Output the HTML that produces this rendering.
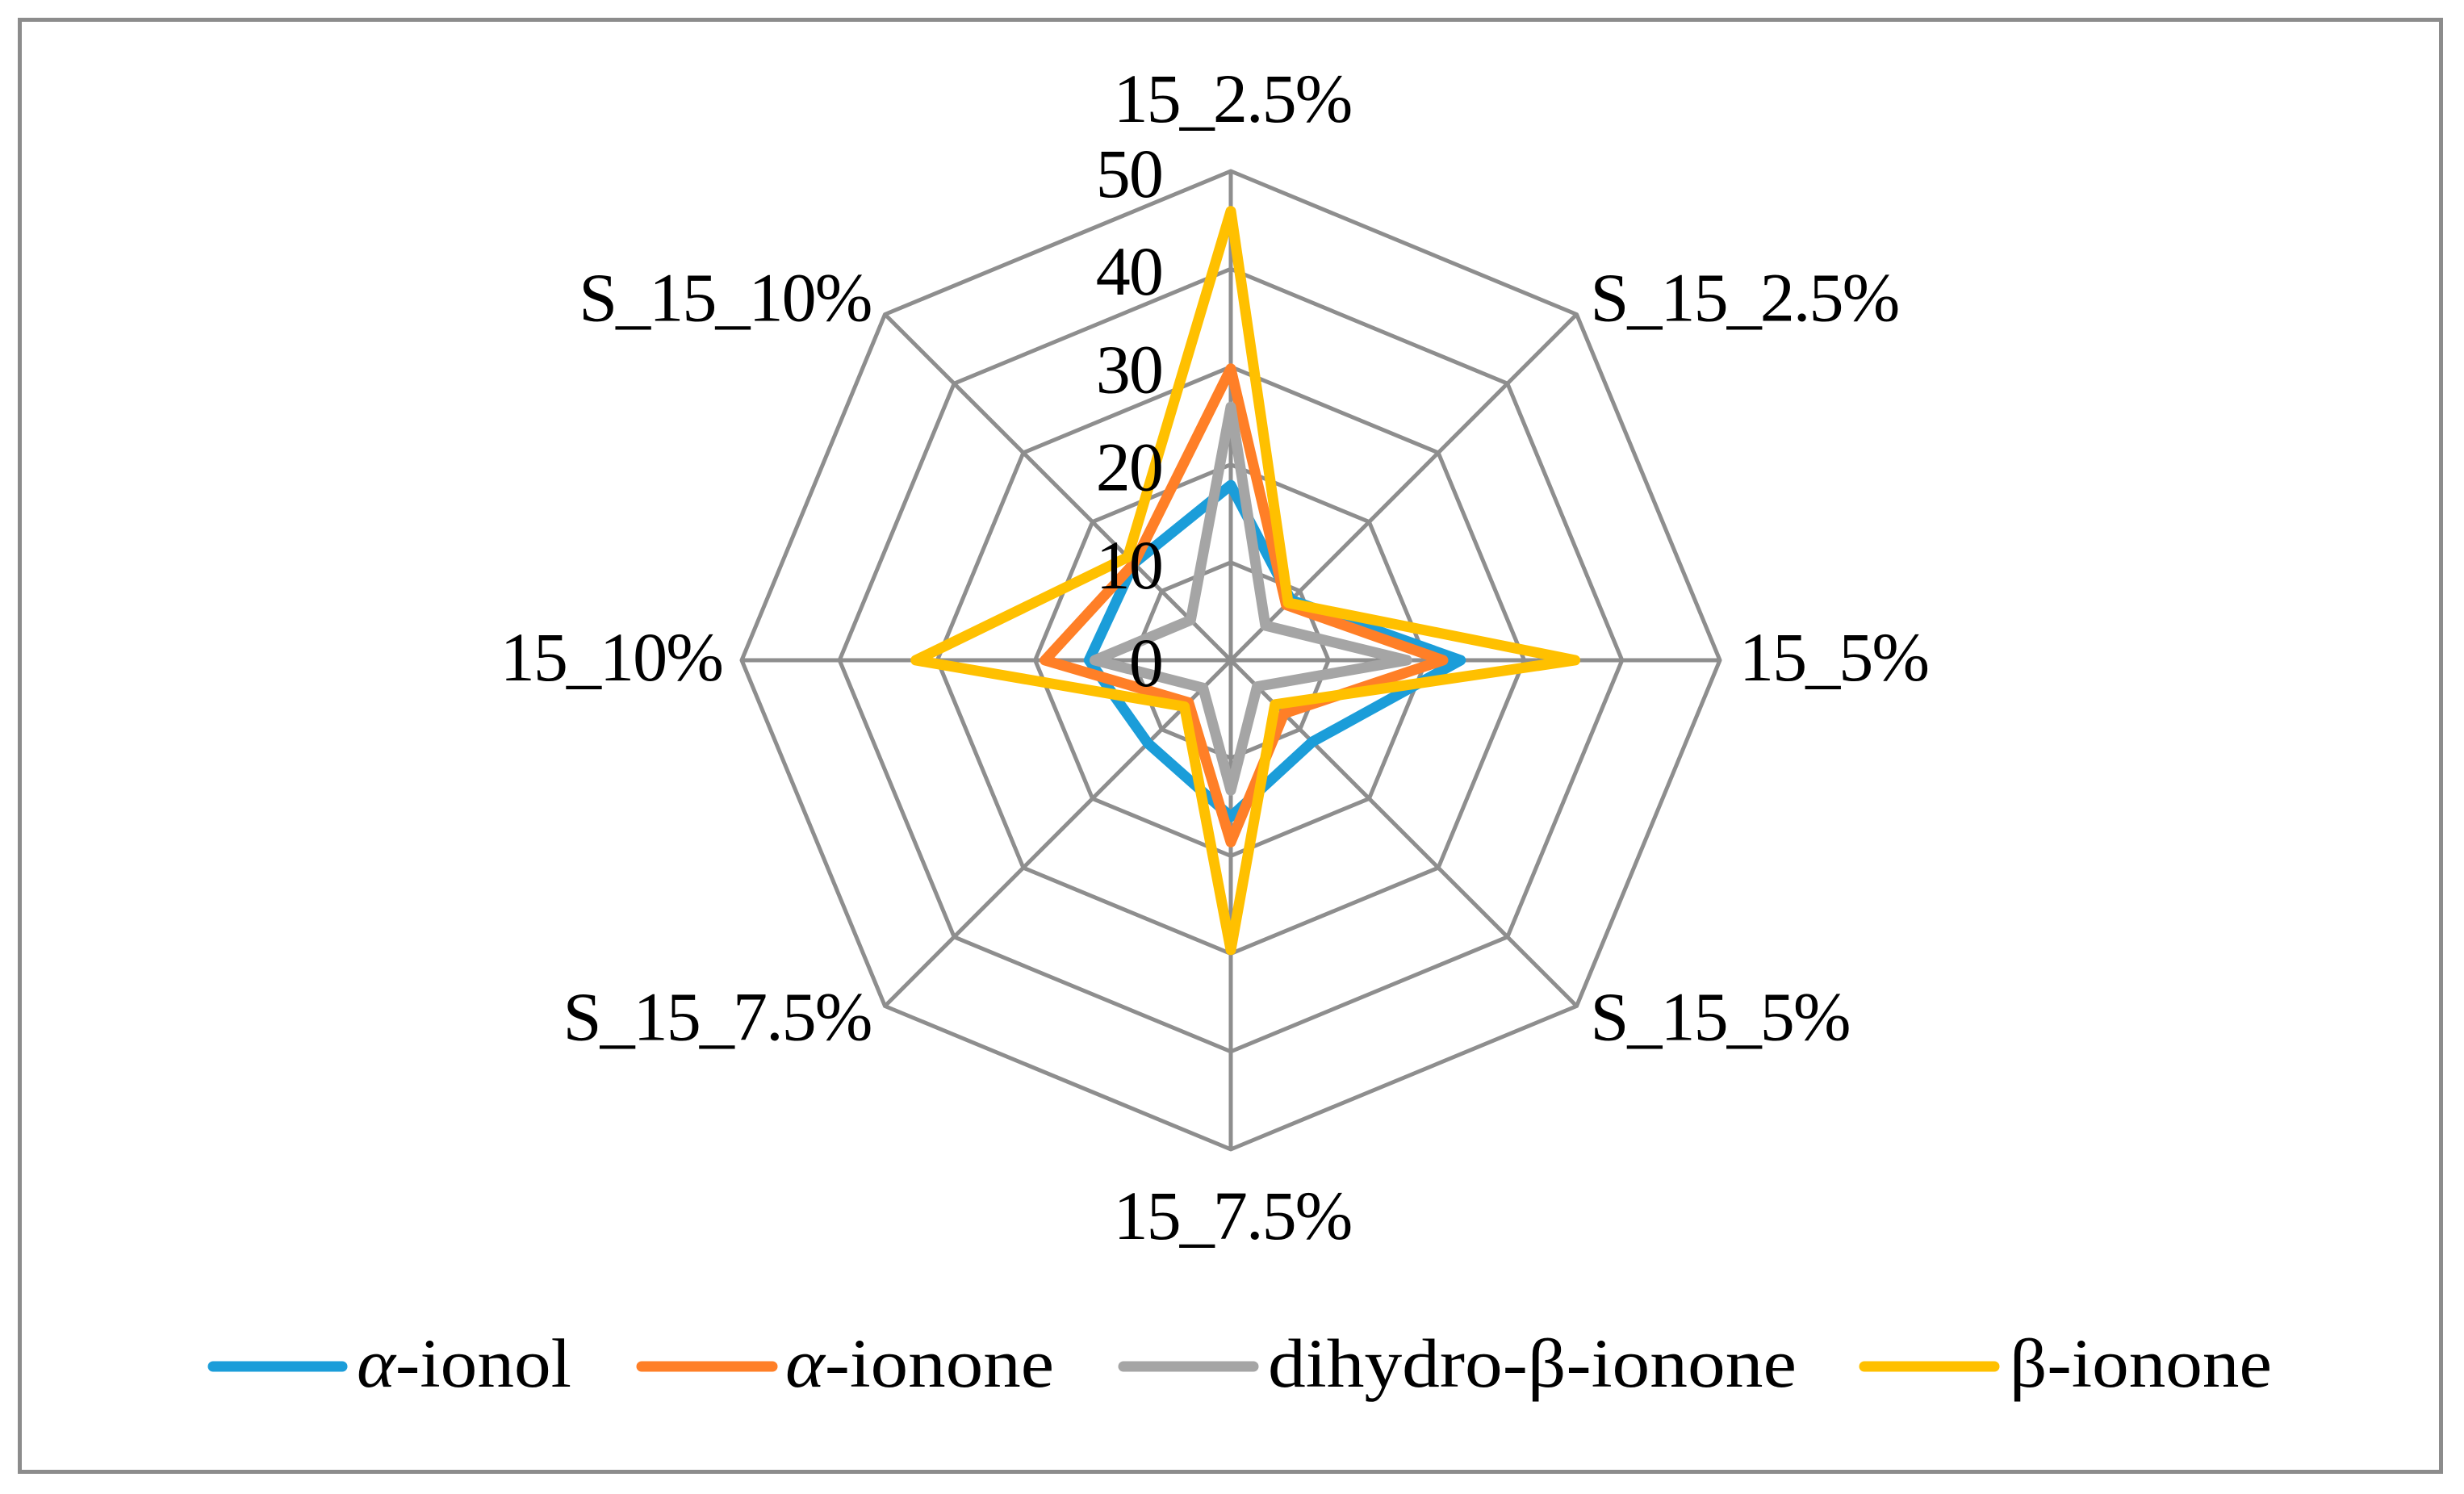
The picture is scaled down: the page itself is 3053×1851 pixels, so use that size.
<!DOCTYPE html>
<html lang="en">
<head>
<meta charset="utf-8">
<title>Radar chart of ionone compounds</title>
<style>
  html, body { margin: 0; padding: 0; background: #fff; }
  svg { display: block; }
  text { font-family: "Liberation Serif", "DejaVu Serif", serif; fill: #000; font-size: 86px; }
  .lab { letter-spacing: -1.9px; }
</style>
</head>
<body>
<svg id="chart" xmlns="http://www.w3.org/2000/svg" width="3053" height="1851" viewBox="0 0 3053 1851">
  <rect x="0" y="0" width="3053" height="1851" fill="#ffffff"/>
  <rect x="24.5" y="24.5" width="3000" height="1799" fill="#ffffff" stroke="#8c8c8c" stroke-width="5"/>
  <g id="grid"></g>
  <g id="series"></g>
  <g id="ticks"></g>
  <g id="cats"></g>

  <g>
    <g>
      <line x1="264" y1="1693" x2="424" y2="1693" stroke="#1b9dd9" stroke-width="13" stroke-linecap="round"/>
      <text x="442" y="1718" textLength="266" lengthAdjust="spacingAndGlyphs"><tspan font-style="italic">α</tspan>-ionol</text>
    </g>
    <g>
      <line x1="795" y1="1693" x2="957" y2="1693" stroke="#ff7f27" stroke-width="13" stroke-linecap="round"/>
      <text x="973" y="1718" textLength="333" lengthAdjust="spacingAndGlyphs"><tspan font-style="italic">α</tspan>-ionone</text>
    </g>
    <g>
      <line x1="1392" y1="1693" x2="1553" y2="1693" stroke="#a5a5a5" stroke-width="13" stroke-linecap="round"/>
      <text x="1571" y="1718" textLength="655" lengthAdjust="spacingAndGlyphs">dihydro-β-ionone</text>
    </g>
    <g>
      <line x1="2310" y1="1693" x2="2471" y2="1693" stroke="#ffc000" stroke-width="13" stroke-linecap="round"/>
      <text x="2490" y="1718" textLength="325" lengthAdjust="spacingAndGlyphs">β-ionone</text>
    </g>
  </g>
</svg>
<script>
const categories = ["15_2.5%", "S_15_2.5%", "15_5%", "S_15_5%", "15_7.5%", "S_15_7.5%", "15_10%", "S_15_10%"];
const tickValues = [0, 10, 20, 30, 40, 50];
const alphaIonol = [17.9, 8.7, 23.5, 11.8, 16.0, 12.0, 14.5, 14.0];
const alphaIonone = [29.8, 8.0, 21.7, 7.7, 18.6, 6.1, 19.0, 14.0];
const dihydroBetaIonone = [25.9, 5.0, 18.0, 3.8, 13.3, 4.0, 13.9, 5.8];
const betaIonone = [45.9, 8.3, 35.2, 6.4, 29.6, 6.7, 32.2, 14.9];

const NS = "http://www.w3.org/2000/svg";
const cx = 1525, cy = 818, R = 606, axisMax = 50;

function make(tag, attrs, parent) {
  const el = document.createElementNS(NS, tag);
  for (const k in attrs) el.setAttribute(k, attrs[k]);
  parent.appendChild(el);
  return el;
}
function angle(i) { return i * 2 * Math.PI / categories.length; }
function radius(v) { return v / axisMax * R; }
function px(i, v) { return cx + radius(v) * Math.sin(angle(i)); }
function py(i, v) { return cy - radius(v) * Math.cos(angle(i)); }
function pointsFor(values) {
  return values.map((v, i) => px(i, v).toFixed(1) + "," + py(i, v).toFixed(1)).join(" ");
}

const grid = document.getElementById("grid");
categories.forEach((c, i) => {
  const spoke = make("line", { x1: cx, y1: cy, x2: px(i, axisMax), y2: py(i, axisMax), stroke: "#8e8e8e", "stroke-width": 5 }, grid);
  
  
});
tickValues.filter(t => t > 0).forEach(t => {
  const ring = make("polygon", { points: pointsFor(categories.map(() => t)), fill: "none", stroke: "#8e8e8e", "stroke-width": 5, "stroke-linejoin": "round" }, grid);
  
  
});

const seriesGroup = document.getElementById("series");
function drawSeries(values, color) {
  const line = make("polygon", { points: pointsFor(values), fill: "none", stroke: color, "stroke-width": 13, "stroke-linejoin": "round" }, seriesGroup);
  return line;
}
const s1 = drawSeries(alphaIonol, "#1b9dd9");


const s2 = drawSeries(alphaIonone, "#ff7f27");


const s3 = drawSeries(dihydroBetaIonone, "#a5a5a5");


const s4 = drawSeries(betaIonone, "#ffc000");



const ticksGroup = document.getElementById("ticks");
tickValues.forEach(t => {
  const label = make("text", { x: cx - 85, y: cy + 32 - radius(t), "text-anchor": "end", "class": "lab" }, ticksGroup);
  label.textContent = t;
  
  
});

const catsGroup = document.getElementById("cats");
categories.forEach((c, i) => {
  const s = Math.sin(angle(i)), k = Math.cos(angle(i));
  const gap = Math.abs(k) > 0.9 ? 86 : 24;
  const anchor = Math.abs(s) < 0.01 ? "middle" : (s > 0 ? "start" : "end");
  const nudge = Math.abs(s) < 0.01 ? 2 : 0;
  const x = cx + (R + gap) * s + nudge;
  const y = cy - (R + gap) * k + 25;
  const label = make("text", { x: x, y: y, "text-anchor": anchor, "class": "lab" }, catsGroup);
  label.textContent = c;
  
  
});
</script>
</body>
</html>
